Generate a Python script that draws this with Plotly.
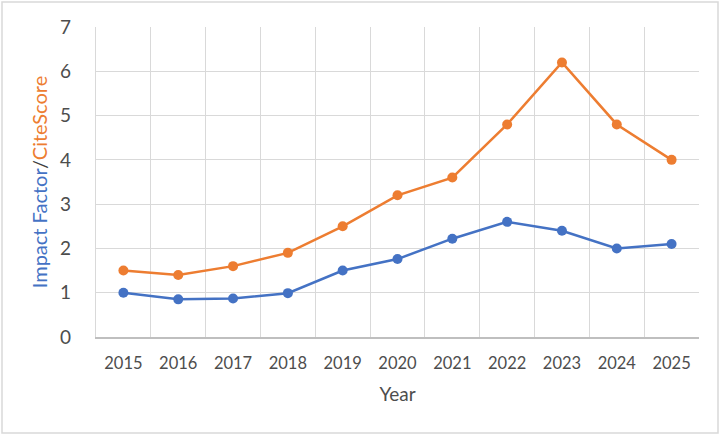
import plotly.graph_objects as go

years = ['2015', '2016', '2017', '2018', '2019', '2020', '2021', '2022', '2023', '2024', '2025']
impact_factor = [1.0, 0.85, 0.87, 0.99, 1.5, 1.76, 2.22, 2.6, 2.4, 2.0, 2.1]
cite_score = [1.5, 1.4, 1.6, 1.9, 2.5, 3.2, 3.6, 4.8, 6.2, 4.8, 4.0]

BLUE = '#4472C4'
ORANGE = '#ED7D31'
W, H = 722, 436
ML, MR, MT, MB = 96, 23, 27, 99

fig = go.Figure()

fig.add_trace(go.Scatter(
    x=years, y=impact_factor, mode='lines+markers', name='Impact Factor',
    line=dict(color=BLUE, width=2.5), marker=dict(color=BLUE, size=10)
))
fig.add_trace(go.Scatter(
    x=years, y=cite_score, mode='lines+markers', name='CiteScore',
    line=dict(color=ORANGE, width=2.5), marker=dict(color=ORANGE, size=10)
))

# outer chart border (Excel style)
pw, ph = W - ML - MR, H - MT - MB
fig.add_shape(type='rect', xref='paper', yref='paper',
              x0=(2 - ML) / pw, x1=(W - 4 - ML) / pw,
              y0=-(H - 3 - MT - ph) / ph, y1=1 + (MT - 2) / ph,
              line=dict(color='#d9d9d9', width=1.5), layer='below')

fig.update_layout(
    width=W, height=H,
    margin=dict(l=ML, r=MR, t=MT, b=MB, autoexpand=False),
    plot_bgcolor='white', paper_bgcolor='white',
    showlegend=False,
    font=dict(family='Lato', color='#595959', size=16),
)

fig.update_xaxes(
    type='category', range=[-0.5, 10.5], tickson='boundaries',
    showgrid=True, gridcolor='#d9d9d9', gridwidth=1.4,
    showline=True, linecolor='#bfbfbf', linewidth=1.5,
    ticks='', ticklabelstandoff=10, automargin=False,
    tickfont=dict(size=16.5, color='#4d4d4d'),
    title=dict(text='Year', font=dict(size=19, color='#4d4d4d'), standoff=16),
)
fig.update_yaxes(
    range=[0, 7], dtick=1,
    showgrid=True, gridcolor='#d9d9d9', gridwidth=1.4,
    showline=True, linecolor='#d9d9d9', linewidth=1.4,
    zeroline=False, ticks='', ticklabelstandoff=20, automargin=False,
    tickfont=dict(size=19, color='#4d4d4d'),
    title=dict(
        text="<span style='color:%s'>Impact Factor</span>/<span style='color:%s'>CiteScore</span>" % (BLUE, ORANGE),
        font=dict(size=20, color='#404040'), standoff=6,
    ),
)

# the page's default body margin would push the chart 8px off
fig.write_html('out.html', config={'displayModeBar': False},
               post_script="document.body.style.margin='0';")
